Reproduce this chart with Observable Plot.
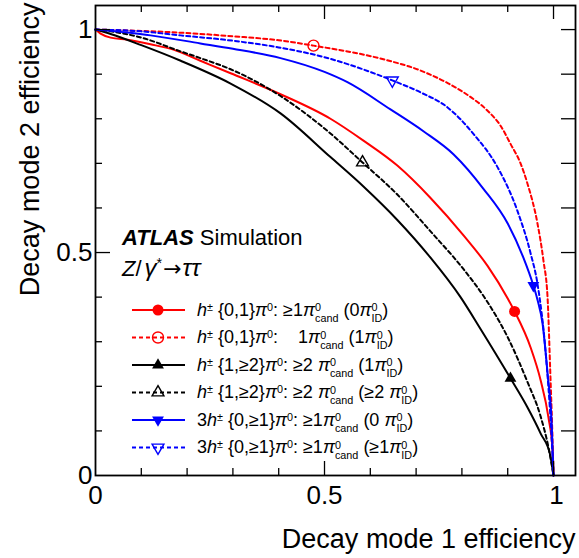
<!DOCTYPE html>
<html><head><meta charset="utf-8">
<script src="https://cdn.jsdelivr.net/npm/d3@7"></script>
<script src="https://cdn.jsdelivr.net/npm/@observablehq/plot@0.6"></script>
<style>
html,body{margin:0;padding:0;background:#fff;}
#wrap{position:relative;width:579px;height:558px;font-family:"Liberation Sans",Arial,Helvetica,sans-serif;color:#000;}
#wrap > svg{display:block;}
.ov{position:absolute;white-space:nowrap;line-height:1;}
.lg{position:absolute;left:197px;font-size:18px;line-height:18px;white-space:nowrap;}
.lg sup{font-size:0.6em;vertical-align:0.45em;line-height:0;}
.ss{display:inline-block;font-size:0.6em;line-height:1;vertical-align:-0.57em;text-align:left;}
.ss span{display:block;}
.arr{font-family:"DejaVu Sans",sans-serif;margin:0 1px;}
.gk{font-size:24px;}
#samples{position:absolute;left:0;top:0;}
</style>
</head><body>
<div id="wrap"></div>
<script>
// ---------- data ----------
// h± {0,1}π0: ≥1π0cand (0π0ID)  (red solid)
const rsX = [0, 0.011, 0.033, 0.07, 0.12, 0.17, 0.229, 0.295, 0.404, 0.513, 0.585, 0.659, 0.731, 0.804, 0.856, 0.9, 0.915, 0.95, 0.972, 0.989, 0.998, 1];
const rsY = [1, 0.991, 0.982, 0.977, 0.967, 0.955, 0.93, 0.902, 0.855, 0.8, 0.751, 0.695, 0.623, 0.538, 0.47, 0.397, 0.368, 0.287, 0.213, 0.13, 0.056, 0];
// h± {0,1}π0: 1π0cand (1π0ID)  (red dashed)
const rdX = [0, 0.1, 0.186, 0.3, 0.4, 0.476, 0.622, 0.71, 0.769, 0.81, 0.856, 0.884, 0.906, 0.928, 0.943, 0.965, 0.978, 0.987, 0.993, 0.997, 1];
const rdY = [1, 0.997, 0.993, 0.985, 0.976, 0.964, 0.935, 0.908, 0.88, 0.855, 0.818, 0.785, 0.744, 0.7, 0.655, 0.565, 0.482, 0.399, 0.23, 0.11, 0];
// h± {1,≥2}π0: ≥2π0cand (1π0ID)  (black solid)
const ksX = [0, 0.033, 0.1, 0.186, 0.295, 0.404, 0.513, 0.585, 0.659, 0.731, 0.797, 0.841, 0.906, 0.943, 0.972, 0.993, 1];
const ksY = [1, 0.99, 0.965, 0.93, 0.879, 0.812, 0.714, 0.648, 0.573, 0.489, 0.4, 0.328, 0.218, 0.153, 0.094, 0.045, 0];
// h± {1,≥2}π0: ≥2π0cand (≥2π0ID)  (black dashed)
const kdX = [0, 0.033, 0.1, 0.186, 0.229, 0.295, 0.404, 0.513, 0.583, 0.659, 0.731, 0.804, 0.852, 0.9, 0.943, 0.972, 0.989, 1];
const kdY = [1, 0.996, 0.982, 0.951, 0.936, 0.911, 0.851, 0.767, 0.702, 0.63, 0.548, 0.462, 0.395, 0.31, 0.21, 0.132, 0.063, 0];
// 3h± {0,≥1}π0: ≥1π0cand (0π0ID)  (blue solid)
const bsX = [0, 0.12, 0.229, 0.3, 0.404, 0.5, 0.55, 0.644, 0.716, 0.782, 0.847, 0.9, 0.934, 0.956, 0.965, 0.976, 0.987, 0.996, 1];
const bsY = [1, 0.987, 0.969, 0.957, 0.936, 0.905, 0.882, 0.821, 0.772, 0.72, 0.643, 0.565, 0.489, 0.426, 0.394, 0.341, 0.229, 0.117, 0];
// 3h± {0,≥1}π0: ≥1π0cand (≥1π0ID)  (blue dashed)
const bdX = [0, 0.1, 0.186, 0.3, 0.4, 0.5, 0.6, 0.648, 0.71, 0.768, 0.826, 0.878, 0.921, 0.95, 0.965, 0.983, 0.995, 1];
const bdY = [1, 0.996, 0.987, 0.975, 0.96, 0.938, 0.905, 0.886, 0.859, 0.826, 0.765, 0.691, 0.594, 0.498, 0.43, 0.274, 0.1, 0];

// working-point markers, one per curve (order: rs, rd, ks, kd, bs, bd)
const markerX = [0.915, 0.476, 0.906, 0.583, 0.956, 0.648];
const markerY = [0.368, 0.964, 0.218, 0.702, 0.426, 0.886];

// ticks
const xTickLabels = [0, 0.5, 1];
const yTickLabels = [0, 0.5, 1];
const minorTicks = [0.1, 0.2, 0.3, 0.4, 0.6, 0.7, 0.8, 0.9];
const majorTicks = [0.5, 1];
const rightTicks = [0.1, 0.2, 0.3, 0.4, 0.5, 0.6, 0.7, 0.8, 0.9, 1];

const xTitle = "Decay mode 1 efficiency";
const yTitle = "Decay mode 2 efficiency";

const S = (sup, sub) => `<span class="ss"><span>${sup}</span><span>${sub}</span></span>`;
const PI = `<i>π</i><sup>0</sup>`;
const legendLabels = [
  `<i>h</i><sup>±</sup> {0,1}${PI}: ≥1<i>π</i>${S("0","cand")} (0<i>π</i>${S("0","ID")})`,
  `<i>h</i><sup>±</sup> {0,1}${PI}: &nbsp;&nbsp;&nbsp;1<i>π</i>${S("0","cand")} (1<i>π</i>${S("0","ID")})`,
  `<i>h</i><sup>±</sup> {1,≥2}${PI}: ≥2 <i>π</i>${S("0","cand")} (1<i>π</i>${S("0","ID")})`,
  `<i>h</i><sup>±</sup> {1,≥2}${PI}: ≥2 <i>π</i>${S("0","cand")} (≥2 <i>π</i>${S("0","ID")})`,
  `3<i>h</i><sup>±</sup> {0,≥1}${PI}: ≥1<i>π</i>${S("0","cand")} (0 <i>π</i>${S("0","ID")})`,
  `3<i>h</i><sup>±</sup> {0,≥1}${PI}: ≥1<i>π</i>${S("0","cand")} (≥1<i>π</i>${S("0","ID")})`
];

// ---------- styles ----------
const RED = "#ff0000", BLUE = "#0000ff", BLACK = "#000000";
const seriesDefs = [
  {X: rsX, Y: rsY, color: RED,   dash: null,  symbol: "circle",   filled: true,  rot: 0},
  {X: rdX, Y: rdY, color: RED,   dash: "4,3", symbol: "circle",   filled: false, rot: 0},
  {X: ksX, Y: ksY, color: BLACK, dash: null,  symbol: "triangle", filled: true,  rot: 0},
  {X: kdX, Y: kdY, color: BLACK, dash: "4,3", symbol: "triangle", filled: false, rot: 0},
  {X: bsX, Y: bsY, color: BLUE,  dash: null,  symbol: "triangle", filled: true,  rot: 180},
  {X: bdX, Y: bdY, color: BLUE,  dash: "4,3", symbol: "triangle", filled: false, rot: 180}
];

const W = 579, H = 558;
const mL = 95, mR = 4, mT = 5, mB = 83;
const fw = W - mL - mR, fh = H - mT - mB;

const marks = [];
// curves
seriesDefs.forEach((s) => {
  const data = s.X.map((x, i) => ({x, y: s.Y[i]}));
  marks.push(Plot.line(data, {x: "x", y: "y", stroke: s.color, strokeWidth: 2,
    strokeDasharray: s.dash || undefined, curve: "monotone-x"}));
});
// markers
seriesDefs.forEach((s, i) => {
  const d = [{x: markerX[i], y: markerY[i]}];
  const r = s.symbol === "circle" ? 5.5 : 4.4;
  marks.push(Plot.dot(d, {x: "x", y: "y", symbol: s.symbol, r, rotate: s.rot,
    fill: s.filled ? s.color : "none", stroke: s.color, strokeWidth: s.filled ? 0 : 1.4}));
});
// ticks (inward)
marks.push(
  Plot.ruleX(minorTicks, {x: d => d, insetTop: fh - 7, strokeWidth: 1.3}),
  Plot.ruleX(majorTicks, {x: d => d, insetTop: fh - 14, strokeWidth: 1.3}),
  Plot.ruleX(minorTicks, {x: d => d, insetBottom: fh - 7, strokeWidth: 1.3}),
  Plot.ruleX(majorTicks, {x: d => d, insetBottom: fh - 14, strokeWidth: 1.3}),
  Plot.ruleY(minorTicks, {y: d => d, insetRight: fw - 7, strokeWidth: 1.3}),
  Plot.ruleY(majorTicks, {y: d => d, insetRight: fw - 15, strokeWidth: 1.3}),
  Plot.ruleY(rightTicks, {y: d => d, insetLeft: fw - 14, strokeWidth: 1.3}),
  Plot.frame({stroke: "black", strokeWidth: 1.8})
);
// tick labels
marks.push(
  Plot.axisX({ticks: xTickLabels.slice(0, 2), tickSize: 0, tickPadding: 10, label: null, fontSize: 26,
    tickFormat: d => String(d)}),
  Plot.axisX({ticks: xTickLabels.slice(2), tickSize: 0, tickPadding: 10, label: null, fontSize: 26,
    dx: 3, tickFormat: d => String(d)}),
  Plot.axisY({ticks: yTickLabels, tickSize: 0, tickPadding: 3, label: null, fontSize: 26,
    tickFormat: d => String(d)})
);
// axis titles
marks.push(
  Plot.text([xTitle], {text: d => d, frameAnchor: "bottom-right", textAnchor: "end",
    lineAnchor: "bottom", dy: 72, fontSize: 27}),
  Plot.text([yTitle], {text: d => d, frameAnchor: "top-left", textAnchor: "end",
    lineAnchor: "bottom", rotate: -90, dx: -57, dy: -3, fontSize: 27})
);

const chart = Plot.plot({
  width: W, height: H,
  marginLeft: mL, marginRight: mR, marginTop: mT, marginBottom: mB,
  x: {domain: [0, 1.048]},
  y: {domain: [0, 1.054]},
  style: {fontFamily: '"Liberation Sans", Arial, Helvetica, sans-serif', fontSize: "26px", background: "white", color: "black"},
  marks
});
const wrap = document.getElementById("wrap");
wrap.appendChild(chart);

// ATLAS label
const atlas = document.createElement("div");
atlas.className = "ov";
atlas.style.cssText = "left:122px;top:227.4px;font-size:22px;";
atlas.innerHTML = `<b><i>ATLAS</i></b> Simulation`;
wrap.appendChild(atlas);
const proc = document.createElement("div");
proc.className = "ov";
proc.style.cssText = "left:122px;top:256.4px;font-size:22px;";
proc.innerHTML = `<i>Z</i>/<span style="margin-left:3px"></span><i class="gk">γ</i><sup style="font-size:0.65em;vertical-align:0.55em;line-height:0">*</sup><span class="arr">→</span><i class="gk">ττ</i>`;
wrap.appendChild(proc);

// legend
const baselines = [316, 343.5, 371, 398.5, 426, 453.5];
legendLabels.forEach((lab, i) => {
  const d = document.createElement("div");
  d.className = "lg";
  d.style.top = (baselines[i] - 15.2) + "px";
  d.innerHTML = lab;
  wrap.appendChild(d);
});
const svg = d3.select(wrap).append("svg").attr("id", "samples").attr("width", W).attr("height", H);
seriesDefs.forEach((s, i) => {
  const y = baselines[i] - 6;
  svg.append("line").attr("x1", 132).attr("x2", 185).attr("y1", y).attr("y2", y)
    .attr("stroke", s.color).attr("stroke-width", 2).attr("stroke-dasharray", s.dash);
  const r = s.symbol === "circle" ? 5.5 : 4.4;
  const sym = d3.symbol(s.symbol === "circle" ? d3.symbolCircle : d3.symbolTriangle, Math.PI * r * r);
  svg.append("path").attr("d", sym()).attr("transform", `translate(158,${y}) rotate(${s.rot})`)
    .attr("fill", s.filled ? s.color : "none").attr("stroke", s.color).attr("stroke-width", s.filled ? 0 : 1.4);
});
</script>
</body></html>
